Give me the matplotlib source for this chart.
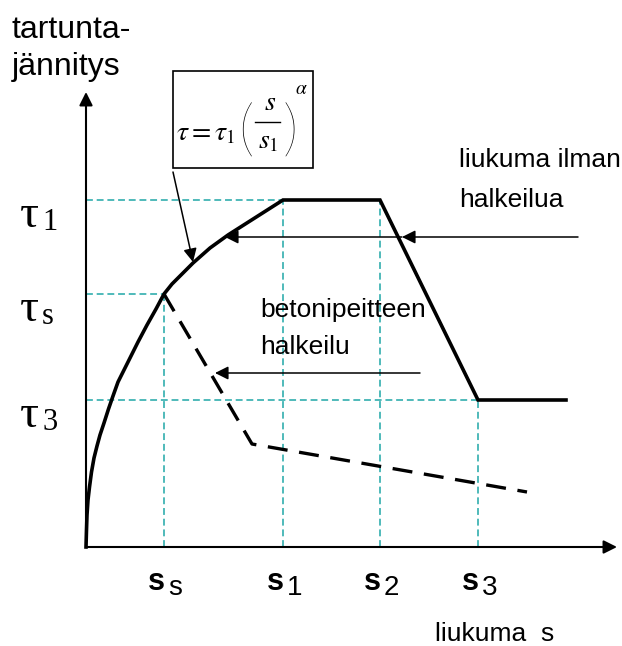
import matplotlib.pyplot as plt
from matplotlib.patches import Rectangle

plt.rcParams['mathtext.fontset'] = 'stix'

# slip marks on x axis and stress levels on y axis (drawing units)
s_s, s_1, s_2, s_3 = 78, 197, 294, 392
tau_s, tau_1, tau_3 = 253, 347, 147
s_end = 480

# bond curve: rising part up to (s_1, tau_1)
curve_x = [0, 0.5, 1, 2, 3.5, 5.5, 8, 11, 14, 18, 22.5, 27, 32, 38, 44, 52,
           61, 70, 78, 86, 94, 107, 124, 142, 197]
curve_y = [0, 17, 32, 47, 60, 75, 89, 101, 112, 124, 138, 151, 165, 177, 189,
           205, 222, 238, 253, 263, 271, 284, 299, 312, 347]

# cracked cover branch (dashed)
crack_x = [s_s, 166, 441]
crack_y = [tau_s, 103, 55]

teal = '#1FA7A7'
sans = 'Liberation Sans'
serif = 'Liberation Serif'

fig = plt.figure(figsize=(6.22, 6.46), dpi=100)
ax = fig.add_axes([0, 0, 1, 1])
ax.set_xlim(-86, 536)
ax.set_ylim(-99, 547)
ax.axis('off')

# guide lines
gl = dict(color=teal, lw=1.1, linestyle=(0, (4.5, 2.5)), zorder=1)
ax.plot([0, s_1], [tau_1, tau_1], **gl)
ax.plot([0, s_s], [tau_s, tau_s], **gl)
ax.plot([0, s_3], [tau_3, tau_3], **gl)
ax.plot([s_s, s_s], [0, tau_s], **gl)
ax.plot([s_1, s_1], [0, tau_1], **gl)
ax.plot([s_2, s_2], [0, tau_1], **gl)
ax.plot([s_3, s_3], [0, tau_3], **gl)

# axes with arrows
axis_arrow = dict(arrowstyle='-|>', color='black', lw=1.5,
                  mutation_scale=20, shrinkA=0, shrinkB=0)
ax.annotate('', xy=(0, 455), xytext=(0, 0), arrowprops=axis_arrow)
ax.annotate('', xy=(531, 0), xytext=(0, 0), arrowprops=axis_arrow)

# main curve
bx = curve_x + [s_2, s_3, s_end]
by = curve_y + [tau_1, tau_3, tau_3]
ax.plot(bx, by, color='black', lw=2.6, solid_joinstyle='miter', zorder=3)
ax.plot(crack_x, crack_y, color='black', lw=2.4, linestyle=(0, (6, 3.5)), zorder=3)

# formula box  tau = tau1 (s/s1)^alpha
ax.add_patch(Rectangle((87, 379), 140, 97, fill=False, ec='black', lw=1.2))
ax.text(90, 407, r'$\tau=\tau_1$', fontsize=20, va='baseline')
ax.text(152, 414, '(', fontsize=44, family='Lato', weight='light', va='center')
ax.text(196, 414, ')', fontsize=44, family='Lato', weight='light', va='center')
ax.text(184, 437, r'$s$', fontsize=20, va='baseline', ha='center')
ax.plot([169, 194], [425, 425], color='black', lw=1.0)
ax.text(182, 399, r'$s_1$', fontsize=20, va='baseline', ha='center')
ax.text(209, 453, r'$\alpha$', fontsize=14, va='baseline')

thin = dict(arrowstyle='-|>', color='black', lw=1.1, mutation_scale=20,
            shrinkA=0, shrinkB=0)
ax.annotate('', xy=(107, 285), xytext=(87, 375), arrowprops=thin)
ax.annotate('', xy=(316, 310), xytext=(492, 310), arrowprops=thin)
ax.annotate('', xy=(139, 310), xytext=(316, 310), arrowprops=thin)
ax.annotate('', xy=(129, 174), xytext=(334, 174), arrowprops=thin)

# texts
ax.text(-74, 509, 'tartunta-', fontsize=23, family=sans, va='baseline')
ax.text(-74, 472, 'jännitys', fontsize=23, family=sans, va='baseline')

ax.text(373, 380, 'liukuma ilman', fontsize=19, family=sans, va='baseline')
ax.text(373, 340, 'halkeilua', fontsize=19, family=sans, va='baseline')
ax.text(174, 230, 'betonipeitteen', fontsize=19, family=sans, va='baseline')
ax.text(174, 193, 'halkeilu', fontsize=19, family=sans, va='baseline')
ax.text(349, -94, 'liukuma  s', fontsize=19, family=sans, va='baseline')

# tau labels
for y, sub in [(tau_1, '1'), (tau_s, 's'), (tau_3, '3')]:
    ax.text(-66, y - 27, 'τ', fontsize=34, family=serif, va='baseline')
    ax.text(-44, y - 30, sub, fontsize=22, family=serif, va='baseline')

# s labels
for x, sub in [(s_s, 's'), (s_1, '1'), (s_2, '2'), (s_3, '3')]:
    ax.text(x - 16, -43, 's', fontsize=22, family=sans, weight='bold', va='baseline')
    ax.text(x + 4, -48, sub, fontsize=20, family=sans, va='baseline')

fig.savefig('out.png', dpi=100)
